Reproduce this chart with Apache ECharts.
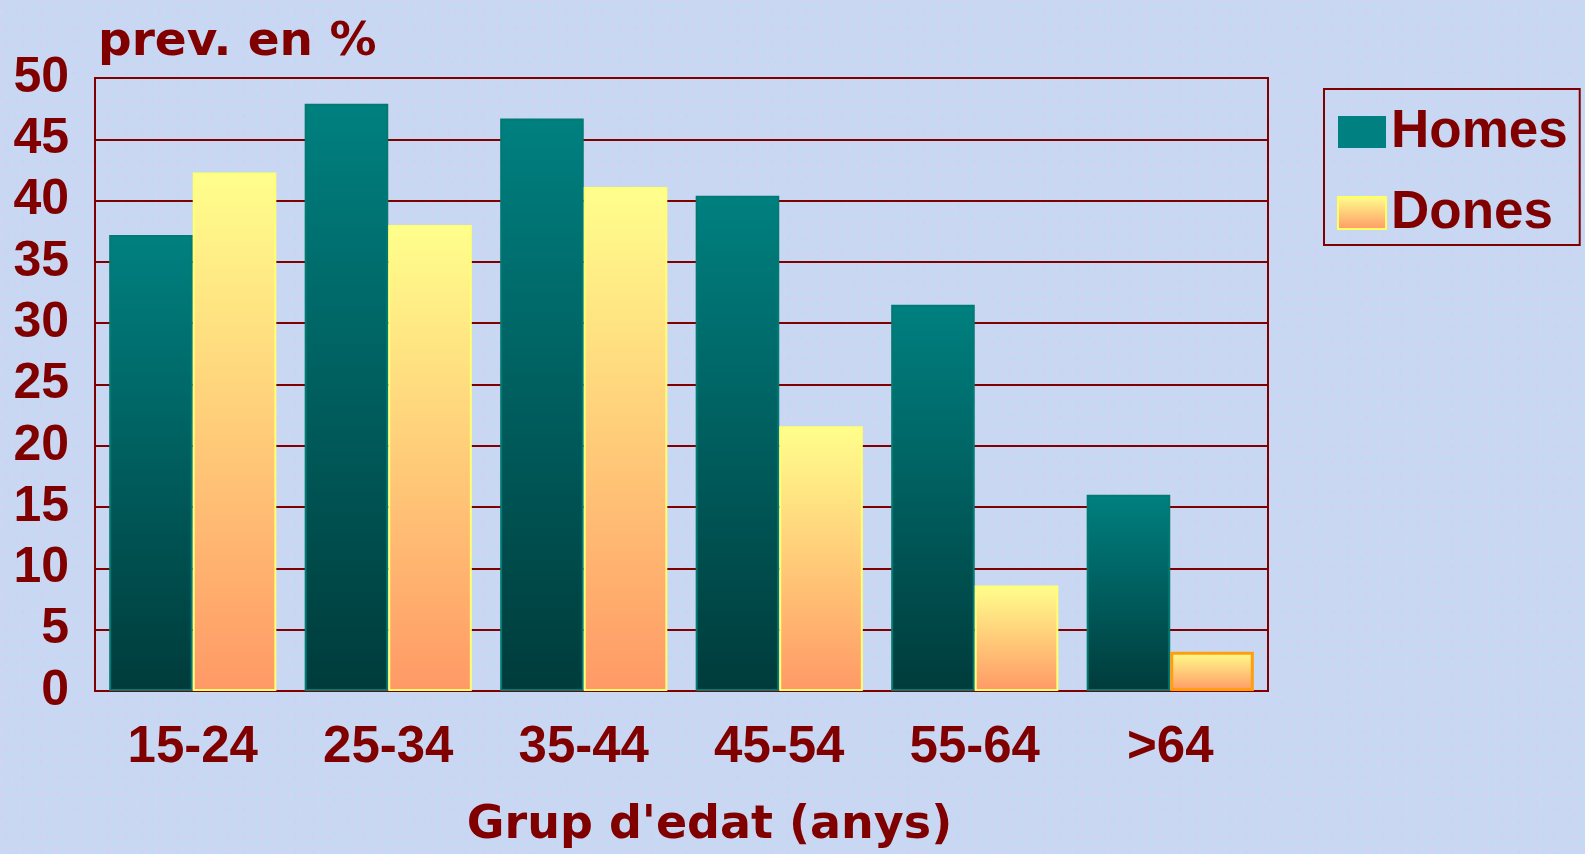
<!DOCTYPE html>
<html>
<head>
<meta charset="utf-8">
<script src="https://cdn.jsdelivr.net/npm/echarts@6/dist/echarts.min.js"></script>
<style>
html,body{margin:0;padding:0;width:1585px;height:854px;overflow:hidden;}
body{
  background-color:#c8d8f3;
  background-image:
    radial-gradient(circle at 20% 30%, rgba(230,200,240,0.35) 0, rgba(230,200,240,0) 3px),
    radial-gradient(circle at 70% 60%, rgba(170,225,245,0.35) 0, rgba(170,225,245,0) 3px),
    radial-gradient(circle at 40% 80%, rgba(215,200,245,0.3) 0, rgba(215,200,245,0) 4px);
  background-size: 9px 9px, 13px 11px, 17px 15px;
}
#chart{width:1585px;height:854px;}
</style>
</head>
<body>
<div id="chart"></div>
<script>
const categories = ['15-24', '25-34', '35-44', '45-54', '55-64', '>64'];
const homes = [37.2, 47.9, 46.7, 40.4, 31.5, 16.0];
const dones = [42.3, 38.0, 41.1, 21.6, 8.6, 3.2];
const yTicks = { min: 0, max: 50, interval: 5 };

const dark = '#800000';
const homesColor = {
  type: 'linear', x: 0, y: 0, x2: 0, y2: 1,
  colorStops: [{ offset: 0, color: '#008080' }, { offset: 1, color: '#003b3b' }]
};
const donesColor = {
  type: 'linear', x: 0, y: 0, x2: 0, y2: 1,
  colorStops: [{ offset: 0, color: '#ffff8c' }, { offset: 1, color: '#ff9966' }]
};

const chart = echarts.init(document.getElementById('chart'), null, { renderer: 'canvas' });
chart.setOption({
  backgroundColor: 'transparent',
  animation: false,
  title: {
    text: 'prev. en %',
    left: 93, top: 14,
    textStyle: { fontFamily: 'DejaVu Sans', fontWeight: 'bold', fontSize: 47, color: dark }
  },
  legend: {
    orient: 'vertical',
    left: 1324, top: 89,
    padding: [14, 12, 3, 13],
    itemWidth: 48, itemHeight: 32,
    itemGap: 23,
    icon: 'rect',
    borderColor: dark, borderWidth: 2,
    textStyle: { fontFamily: 'Liberation Sans', fontWeight: 'bold', fontSize: 53, color: dark, lineHeight: 50, padding: [8, 0, 0, 0] },
    data: [
      { name: 'Homes', itemStyle: { color: '#008080', borderWidth: 0 } },
      { name: 'Dones', itemStyle: { color: donesColor, borderColor: '#ffff60', borderWidth: 2 } }
    ]
  },
  grid: {
    left: 95, right: 317, top: 78, bottom: 162,
    show: true, borderColor: dark, borderWidth: 2, backgroundColor: 'transparent'
  },
  xAxis: {
    type: 'category',
    data: categories,
    axisLine: { lineStyle: { color: dark, width: 2 } },
    axisTick: { show: false },
    axisLabel: { fontFamily: 'Liberation Sans', fontWeight: 'bold', fontSize: 51, color: dark, margin: 31 },
    name: "Grup d'edat (anys)",
    nameLocation: 'middle',
    nameGap: 112,
    nameTextStyle: { fontFamily: 'DejaVu Sans', fontWeight: 'bold', fontSize: 46, color: dark, padding: [0, 0, 0, 56] }
  },
  yAxis: {
    type: 'value',
    min: yTicks.min, max: yTicks.max, interval: yTicks.interval,
    axisLine: { show: true, lineStyle: { color: dark, width: 2 } },
    axisTick: { show: false },
    splitLine: { lineStyle: { color: dark, width: 2 } },
    axisLabel: { fontFamily: 'Liberation Sans', fontWeight: 'bold', fontSize: 50, color: dark, margin: 26, padding: [16, 0, 0, 0] }
  },
  series: [
    {
      name: 'Homes', type: 'bar', data: homes,
      barGap: '0%', barCategoryGap: '14.5%',
      itemStyle: { color: homesColor, borderColor: '#007a72', borderWidth: 2 }
    },
    {
      name: 'Dones', type: 'bar',
      data: dones.map((v, i) => i === dones.length - 1
        ? { value: v, itemStyle: { borderColor: '#ff9f10', borderWidth: 3 } }
        : v),
      itemStyle: { color: donesColor, borderColor: '#ffff70', borderWidth: 2 }
    }
  ]
});
</script>
</body>
</html>
